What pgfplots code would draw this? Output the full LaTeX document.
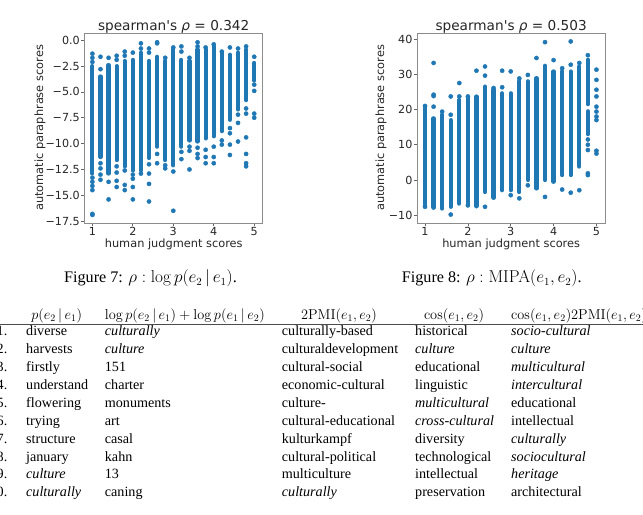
\documentclass[border=0pt]{standalone}
\usepackage[no-math]{fontspec}
\setmainfont{Liberation Serif}
\newfontfamily\dejavu{DejaVu Sans}
\usepackage{pgfplots}
\pgfplotsset{compat=1.18}
\definecolor{mplblue}{HTML}{1F77B4}
\definecolor{mpltext}{HTML}{262626}

\pgfplotsset{
  scatterpanel/.style={
    scale only axis, height=190bp,
    axis line style={black!45, line width=0.8bp},
    tick style={black!60, line width=0.7bp},
    tick align=outside, major tick length=3.5bp,
    xtick={1,2,3,4,5}, xticklabels={1,2,3,4,5},
    xtick pos=bottom, ytick pos=left,
    /pgf/number format/assume math mode=true,
    ticklabel style={font=\dejavu\fontsize{11.2}{13}\selectfont, text=mpltext},
    xticklabel style={inner sep=0pt, anchor=north, yshift=-0.3bp},
    yticklabel style={inner sep=0pt, anchor=east, xshift=-1.2bp},
    label style={font=\dejavu\fontsize{11.4}{13.5}\selectfont, text=mpltext},
    title style={font=\dejavu\fontsize{13.7}{16}\selectfont, text=mpltext,
      at={(axis description cs:0.5,1)}, anchor=base, yshift=-3bp},
    xlabel={human judgment scores},
    ylabel={automatic paraphrase scores},
    xlabel style={at={(axis description cs:0.5,0)}, anchor=base, yshift=-24.6bp},
  },
  % dense runs of points drawn as thick round-capped strokes
  column runs/.style={mplblue, line width=4.2bp, line cap=round, unbounded coords=jump},
  loose points/.style={only marks, mark=*, mark size=2.1bp,
    mark options={draw=mplblue, fill=mplblue}},
}

\newcommand{\tabrow}[7]{%
  \pgfmathsetmacro{\rowy}{179-17.86*(#1-1)}%
  \node[cell, anchor=base east] at (7.5,\rowy) {#2};
  \node[cell] at (26,\rowy) {#3};
  \node[cell] at (104.7,\rowy) {#4};
  \node[cell] at (281.7,\rowy) {#5};
  \node[cell] at (415,\rowy) {#6};
  \node[cell] at (511,\rowy) {#7};
}

\begin{document}
\begin{tikzpicture}[x=1bp, y=1bp,
  cell/.style={inner sep=0pt, anchor=base west, font=\fontsize{14.2}{17}\selectfont},
  caption/.style={inner sep=0pt, anchor=base west, font=\fontsize{16.2}{19}\selectfont}]
\path[use as bounding box] (0,0) rectangle (643,515);
\clip (0,0) rectangle (643,515);

% ---- Figure 7: log p(e2|e1) against human scores ----
\begin{axis}[scatterpanel, at={(84.7bp,292bp)}, anchor=south west,
  width=178bp, xmin=0.81, xmax=5.21, ymin=-17.68, ymax=0.7,
  title={spearman\textquotesingle s {\itshape ρ} = 0.342},
  ytick={-17.5,-15,-12.5,-10,-7.5,-5,-2.5,0},
  yticklabels={−17.5,−15.0,−12.5,−10.0,−7.5,−5.0,−2.5,0.0},
  ylabel style={at={(axis description cs:-0.234,0.5)}, anchor=base}]
\addplot[column runs] coordinates {
  (1.0,-12.9) (1.0,-2.5) (1.0,nan)
  (1.2,-11.3) (1.2,-3.5) (1.2,nan)
  (1.4,-12.9) (1.4,-2.4) (1.4,nan)
  (1.6,-11.6) (1.6,-2.5) (1.6,nan)
  (1.8,-12.2) (1.8,-2.0) (1.8,nan)
  (2.0,-12.6) (2.0,-1.9) (2.0,nan)
  (2.2,-12.6) (2.2,-1.2) (2.2,nan)
  (2.4,-11.4) (2.4,-2.0) (2.4,nan)
  (2.6,-10.3) (2.6,-1.6) (2.6,nan)
  (2.8,-11.6) (2.8,-2.0) (2.8,nan)
  (3.0,-12.1) (3.0,-0.9) (3.0,nan)
  (3.2,-10.3) (3.2,-1.9) (3.2,nan)
  (3.4,-9.7) (3.4,-2.0) (3.4,nan)
  (3.6,-9.8) (3.6,-0.9) (3.6,nan)
  (3.8,-9.5) (3.8,-0.9) (3.8,nan)
  (4.0,-9.3) (4.0,-0.6) (4.0,nan)
  (4.2,-8.8) (4.2,-1.2) (4.2,nan)
  (4.4,-7.7) (4.4,-1.4) (4.4,nan)
  (4.6,-6.7) (4.6,-1.2) (4.6,nan)
  (4.8,-5.8) (4.8,-0.9) (4.8,nan)
  (5.0,-3.9) (5.0,-2.2)
};
\addplot[loose points] coordinates {
  (1.0,-1.3) (1.0,-1.7) (1.0,-2.1) (1.0,-13.3) (1.0,-13.7) (1.0,-14.1) (1.0,-14.5) (1.0,-16.8) (1.0,-16.9)
  (1.2,-1.6) (1.2,-2.8) (1.2,-11.9) (1.2,-12.4) (1.2,-13.0) (1.2,-13.5)
  (1.4,-1.7) (1.4,-13.7) (1.4,-15.4)
  (1.6,-1.5) (1.6,-1.9) (1.6,-12.2) (1.6,-12.8) (1.6,-13.6) (1.6,-14.2)
  (1.8,-1.1) (1.8,-1.5) (1.8,-12.6) (1.8,-14.0) (1.8,-14.5)
  (2.0,-1.2) (2.0,-13.0) (2.0,-13.4) (2.0,-14.2) (2.0,-15.4)
  (2.2,-0.3) (2.2,-0.8) (2.2,-12.9)
  (2.4,-0.8) (2.4,-1.2) (2.4,-12.0) (2.4,-12.9) (2.4,-13.9) (2.4,-15.6)
  (2.6,-0.2) (2.6,-0.3) (2.6,-11.0) (2.6,-11.9)
  (2.8,-1.7) (2.8,-12.1) (2.8,-12.4)
  (3.0,-0.7) (3.0,-12.7) (3.0,-16.5)
  (3.2,-0.6) (3.2,-1.1) (3.2,-10.8) (3.2,-11.5)
  (3.4,-1.7) (3.4,-10.3) (3.4,-10.7) (3.4,-12.5)
  (3.6,-0.2) (3.6,-0.6) (3.6,-10.4) (3.6,-11.0) (3.6,-11.4)
  (3.8,-0.7) (3.8,-10.6) (3.8,-11.3) (3.8,-11.9)
  (4.0,-0.4) (4.0,-10.3) (4.0,-11.3) (4.0,-11.9)
  (4.2,-1.1) (4.2,-9.7) (4.2,-10.1)
  (4.4,-0.7) (4.4,-8.5) (4.4,-9.0) (4.4,-10.1) (4.4,-11.1)
  (4.6,-0.8) (4.6,-7.2) (4.6,-8.0) (4.6,-9.8)
  (4.8,-0.6) (4.8,-6.6) (4.8,-7.1) (4.8,-9.4) (4.8,-11.0) (4.8,-11.9) (4.8,-12.2)
  (5.0,-1.6) (5.0,-4.3) (5.0,-4.9) (5.0,-7.1) (5.0,-7.5)
};
\end{axis}

% ---- Figure 8: MIPA(e1,e2) against human scores ----
\begin{axis}[scatterpanel, at={(417.3bp,292bp)}, anchor=south west,
  width=187.7bp, xmin=0.82, xmax=5.2, ymin=-12.19, ymax=41.7,
  title={spearman\textquotesingle s {\itshape ρ} = 0.503},
  ytick={-10,0,10,20,30,40},
  yticklabels={−10,0,10,20,30,40},
  ylabel style={at={(axis description cs:-0.177,0.5)}, anchor=base}]
\addplot[column runs] coordinates {
  (1.0,-7.4) (1.0,20.5) (1.0,nan)
  (1.2,-7.6) (1.2,17.5) (1.2,nan)
  (1.4,-8.1) (1.4,18.5) (1.4,nan)
  (1.6,-7.6) (1.6,17.0) (1.6,nan)
  (1.8,-6.7) (1.8,22.7) (1.8,nan)
  (2.0,-6.7) (2.0,23.2) (2.0,nan)
  (2.2,-7.2) (2.2,23.7) (2.2,nan)
  (2.4,-3.4) (2.4,26.5) (2.4,nan)
  (2.6,-4.8) (2.6,25.6) (2.6,nan)
  (2.8,-2.9) (2.8,24.6) (2.8,nan)
  (3.0,-2.9) (3.0,24.6) (3.0,nan)
  (3.2,-3.4) (3.2,28.0) (3.2,nan)
  (3.4,0.0) (3.4,28.0) (3.4,nan)
  (3.6,-2.4) (3.6,28.9) (3.6,nan)
  (3.8,0.0) (3.8,32.4) (3.8,nan)
  (4.0,-0.5) (4.0,30.8) (4.0,nan)
  (4.2,1.4) (4.2,30.8) (4.2,nan)
  (4.4,1.4) (4.4,30.8) (4.4,nan)
  (4.6,3.8) (4.6,32.2) (4.6,nan)
  (4.8,21.5) (4.8,34.1) (4.8,nan)
  (4.8,13.0) (4.8,19.5)
};
\addplot[loose points] coordinates {
  (1.0,21.0) (1.0,-7.6)
  (1.2,33.2) (1.2,24.2) (1.2,23.8) (1.2,20.8) (1.2,-7.8)
  (1.4,19.4)
  (1.6,23.7) (1.6,18.5) (1.6,-9.8)
  (1.8,27.5) (1.8,23.7)
  (2.0,23.7) (2.0,-7.2)
  (2.2,31.0) (2.2,-7.4)
  (2.4,32.2) (2.4,29.6) (2.4,-7.6)
  (2.6,26.1) (2.6,-5.0)
  (2.8,31.0) (2.8,26.3)
  (3.0,30.8) (3.0,-4.3)
  (3.2,28.8) (3.2,-5.2)
  (3.4,29.8) (3.4,-1.5)
  (3.6,34.6)
  (3.8,39.1) (3.8,-4.8)
  (4.0,34.0)
  (4.2,31.7) (4.2,-2.7)
  (4.4,39.3) (4.4,32.7) (4.4,-3.6)
  (4.6,33.2) (4.6,-2.9)
  (4.8,35.4) (4.8,11.5) (4.8,10.0) (4.8,8.5) (4.8,1.9) (4.8,1.4)
  (5.0,31.3) (5.0,28.4) (5.0,25.6) (5.0,23.7) (5.0,20.8) (5.0,19.4) (5.0,18.0) (5.0,17.0) (5.0,8.3) (5.0,7.5)
};
\end{axis}

% ---- captions ----
\node[caption] at (64,232.3) {Figure 7: $\rho:\log p(e_2\,|\,e_1)$.};
\node[caption] at (401.7,232.3) {Figure 8: $\rho:\mathrm{MIPA}(e_1,e_2)$.};

% ---- table of nearest words ----
\node[cell, anchor=base] at (56.7,195.7) {$p(e_2\,|\,e_1)$};
\node[cell] at (104.7,195.7) {$\log p(e_2\,|\,e_1)+\log p(e_1\,|\,e_2)$};
\node[cell, anchor=base] at (339,195.7) {$2\mathrm{PMI}(e_1,e_2)$};
\node[cell, anchor=base] at (454,195.7) {$\cos(e_1,e_2)$};
\node[cell] at (511,195.7) {$\cos(e_1,e_2)2\mathrm{PMI}(e_1,e_2)$};
\draw[black!70, line width=0.8bp] (0,191) -- (643,191);

\tabrow{1}{1.}{diverse}{\textit{culturally}}{culturally-based}{historical}{\textit{socio-cultural}}
\tabrow{2}{2.}{harvests}{\textit{culture}}{culturaldevelopment}{\textit{culture}}{\textit{culture}}
\tabrow{3}{3.}{firstly}{151}{cultural-social}{educational}{\textit{multicultural}}
\tabrow{4}{4.}{understand}{charter}{economic-cultural}{linguistic}{\textit{intercultural}}
\tabrow{5}{5.}{flowering}{monuments}{culture-}{\textit{multicultural}}{educational}
\tabrow{6}{6.}{trying}{art}{cultural-educational}{\textit{cross-cultural}}{intellectual}
\tabrow{7}{7.}{structure}{casal}{kulturkampf}{diversity}{\textit{culturally}}
\tabrow{8}{8.}{january}{kahn}{cultural-political}{technological}{\textit{sociocultural}}
\tabrow{9}{9.}{\textit{culture}}{13}{multiculture}{intellectual}{\textit{heritage}}
\tabrow{10}{10.}{\textit{culturally}}{caning}{\textit{culturally}}{preservation}{architectural}
\end{tikzpicture}
\end{document}
